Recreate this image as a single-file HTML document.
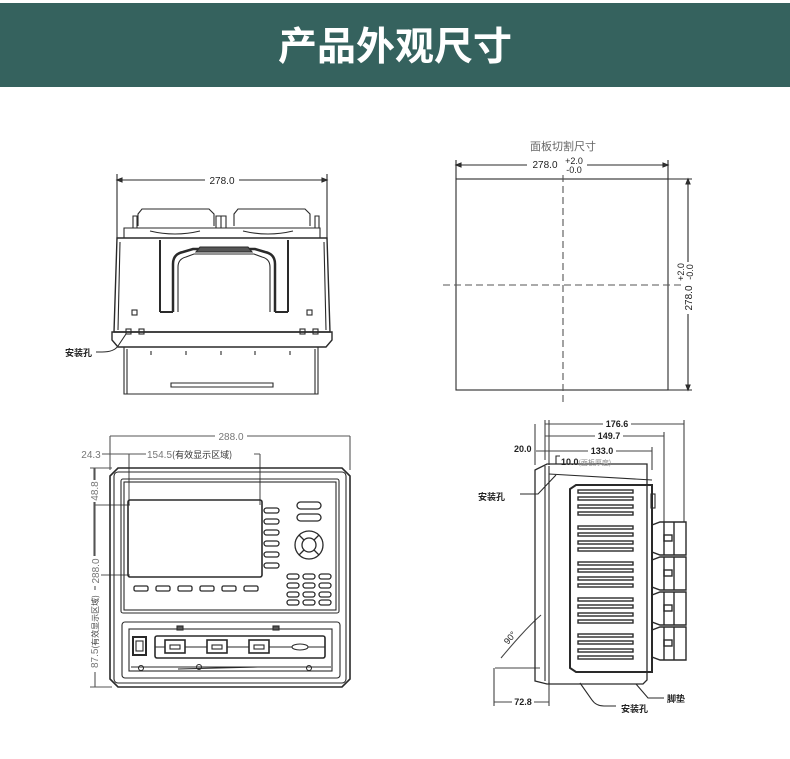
<!DOCTYPE html>
<html><head><meta charset="utf-8"><style>
html,body{margin:0;padding:0;background:#fff;}
svg{display:block}
text{font-family:"Liberation Sans","Noto Sans CJK SC",sans-serif;}
</style></head><body>
<svg width="790" height="759" viewBox="0 0 790 759" xmlns="http://www.w3.org/2000/svg">
<rect x="0" y="0" width="790" height="759" fill="#fff"/>
<rect x="0" y="3" width="790" height="84" fill="#35625e"/>
<text x="395" y="60" text-anchor="middle" font-size="39" font-weight="bold" fill="#fff" font-family="'Noto Sans CJK SC',sans-serif">产品外观尺寸</text>

<g fill="none" stroke="#2a2a2a" stroke-width="1.1">
<!-- ===== Top view ===== -->
<line x1="117" y1="180" x2="327" y2="180"/>
<line x1="117" y1="174" x2="117" y2="240"/><line x1="327" y1="174" x2="327" y2="240"/>
<path d="M117 180 l5 -2 v4z M327 180 l-5 -2 v4z" fill="#333"/>
<path d="M133 228 v-12 h4 v12 M216 228 v-12 h5 v12 M221 228 v-12 h5 v12 M315 228 v-12 h4 v12"/>
<path d="M138 226 v-12 l4 -5 h67 l5 5 v12"/>
<path d="M234 226 v-12 l4 -5 h67 l5 5 v12"/>
<path d="M124 238 v-10 h196 v10"/>
<path d="M150 231 q25 6 50 0 M243 231 q25 6 50 0"/>
<path d="M117 238 h210 l3 94 h-216 z" stroke-width="1.4"/>
<path d="M120 242 l-2 88 M324 242 l2 88"/>
<path d="M112 332 h220 v8 l-6 7 h-208 l-6 -7 z" stroke-width="1.4"/>
<path d="M124 347 v47 h194 v-47"/>
<path d="M127 394 v-45 M315 394 v-45"/>
<path d="M151 351 v4 M186 351 v4 M221 351 v4 M255 351 v4 M290 351 v4"/>
<path d="M171 383 h102 v4 h-102z"/>
<path d="M160 312 v-72 M288 312 v-72 M160 312 h13 M275 312 h13" stroke-width="2"/>
<path d="M173 312 v-48 q0 -10 10 -12 l10 -3 h62 l10 3 q10 2 10 12 v48" stroke-width="2.5"/>
<path d="M178 312 v-45 q0 -8 8 -10 l8 -3 h60 l8 3 q8 2 8 10 v45"/>
<path d="M196 252 l4 -5 h48 l4 5 z" fill="#555"/>
<rect x="132" y="310" width="5" height="5"/><rect x="307" y="310" width="5" height="5"/>
<rect x="126" y="329" width="5" height="5"/><rect x="139" y="329" width="5" height="5"/>
<rect x="300" y="329" width="5" height="5"/><rect x="313" y="329" width="5" height="5"/>
<path d="M126 334 l-8 12 q-4 6 -16 6 h-6"/>

<!-- ===== Cutout ===== -->
<rect x="456" y="179" width="212" height="211"/>
<line x1="456" y1="165" x2="668" y2="165"/>
<line x1="456" y1="160" x2="456" y2="179"/><line x1="668" y1="160" x2="668" y2="179"/>
<path d="M456 165 l5 -2 v4z M668 165 l-5 -2 v4z" fill="#333"/>
<line x1="688" y1="179" x2="688" y2="390"/>
<line x1="668" y1="179" x2="692" y2="179"/><line x1="668" y1="390" x2="692" y2="390"/>
<path d="M688 179 l-2 5 h4z M688 390 l-2 -5 h4z" fill="#333"/>
<line x1="563" y1="175" x2="563" y2="404" stroke-dasharray="7 4" stroke="#555"/>
<line x1="443" y1="285" x2="682" y2="285" stroke-dasharray="7 4" stroke="#555"/>

<!-- ===== Front view ===== -->
<g stroke="#555">
<line x1="110" y1="436" x2="350" y2="436"/>
<line x1="110" y1="436" x2="110" y2="470"/><line x1="350" y1="436" x2="350" y2="470"/>
<line x1="80" y1="454" x2="260" y2="454"/>
<line x1="129" y1="454" x2="129" y2="505"/><line x1="260" y1="454" x2="260" y2="505"/>
<line x1="95" y1="468" x2="95" y2="687"/>
<line x1="90" y1="468" x2="112" y2="468"/><line x1="90" y1="687" x2="112" y2="687"/>
<line x1="94" y1="505" x2="130" y2="505"/><line x1="94" y1="575" x2="130" y2="575"/>
<line x1="94" y1="468" x2="94" y2="575"/>
</g>
<path d="M118 468 h224 l8 8 v203 l-8 8 h-224 l-8 -8 v-203 z" stroke-width="1.6"/>
<rect x="114" y="472" width="232" height="211" rx="4"/>
<rect x="121" y="479" width="218" height="134" rx="2"/>
<rect x="124" y="482" width="212" height="128"/>
<rect x="128" y="500" width="134" height="77" rx="2" stroke-width="1.6"/>
<g stroke-width="1.3">
<rect x="264" y="508" width="15" height="5" rx="2.5"/><rect x="264" y="519" width="15" height="5" rx="2.5"/>
<rect x="264" y="530" width="15" height="5" rx="2.5"/><rect x="264" y="541" width="15" height="5" rx="2.5"/>
<rect x="264" y="552" width="15" height="5" rx="2.5"/><rect x="264" y="563" width="15" height="5" rx="2.5"/>
<rect x="297" y="502" width="24" height="7" rx="3.5"/><rect x="297" y="514" width="24" height="7" rx="3.5"/>
<circle cx="309" cy="545" r="14"/><circle cx="309" cy="545" r="7"/>
<path d="M299 535 l5 5 M319 535 l-5 5 M299 555 l5 -5 M319 555 l-5 -5"/>
<rect x="287" y="574" width="12" height="5" rx="2.5"/><rect x="303" y="574" width="12" height="5" rx="2.5"/><rect x="319" y="574" width="12" height="5" rx="2.5"/>
<rect x="287" y="583" width="12" height="5" rx="2.5"/><rect x="303" y="583" width="12" height="5" rx="2.5"/><rect x="319" y="583" width="12" height="5" rx="2.5"/>
<rect x="287" y="592" width="12" height="5" rx="2.5"/><rect x="303" y="592" width="12" height="5" rx="2.5"/><rect x="319" y="592" width="12" height="5" rx="2.5"/>
<rect x="287" y="600" width="12" height="5" rx="2.5"/><rect x="303" y="600" width="12" height="5" rx="2.5"/><rect x="319" y="600" width="12" height="5" rx="2.5"/>
<rect x="134" y="586" width="14" height="5" rx="1.5"/><rect x="156" y="586" width="14" height="5" rx="1.5"/>
<rect x="178" y="586" width="14" height="5" rx="1.5"/><rect x="200" y="586" width="14" height="5" rx="1.5"/>
<rect x="222" y="586" width="14" height="5" rx="1.5"/><rect x="244" y="586" width="14" height="5" rx="1.5"/>
</g>
<rect x="122" y="622" width="218" height="56" rx="3"/>
<rect x="129" y="629" width="203" height="42"/>
<rect x="177" y="626" width="6" height="4" fill="#555"/><rect x="273" y="626" width="6" height="4" fill="#555"/>
<rect x="133" y="637" width="13" height="18" stroke-width="2"/><rect x="136" y="641" width="7" height="10"/>
<rect x="155" y="636" width="170" height="22" rx="2" stroke-width="1.6"/>
<line x1="155" y1="647" x2="325" y2="647"/>
<rect x="165" y="640" width="20" height="13" fill="#fff" stroke-width="1.6"/><rect x="170" y="645" width="10" height="4"/>
<rect x="207" y="640" width="20" height="13" fill="#fff" stroke-width="1.6"/><rect x="212" y="645" width="10" height="4"/>
<rect x="249" y="640" width="20" height="13" fill="#fff" stroke-width="1.6"/><rect x="254" y="645" width="10" height="4"/>
<ellipse cx="300" cy="647" rx="8" ry="3" fill="#fff"/>
<path d="M131 667 h200 M178 669 l80 -2"/>
<circle cx="141" cy="668" r="2.5"/><circle cx="199" cy="667" r="2.5"/><circle cx="309" cy="668" r="2.5"/>

<!-- ===== Side view ===== -->
<g stroke="#444">
<line x1="545" y1="424" x2="684" y2="424"/>
<line x1="545" y1="436" x2="664" y2="436"/>
<line x1="536" y1="451" x2="652" y2="451"/>
<line x1="535" y1="424" x2="535" y2="465"/><line x1="549" y1="420" x2="549" y2="465"/>
<line x1="545" y1="420" x2="545" y2="460"/>
<line x1="684" y1="420" x2="684" y2="522"/><line x1="664" y1="432" x2="664" y2="522"/>
<line x1="652" y1="447" x2="652" y2="470"/>
<line x1="494" y1="668" x2="494" y2="706"/><line x1="549" y1="682" x2="549" y2="706"/>
<line x1="494" y1="702" x2="549" y2="702"/>
<path d="M495 668 h45"/>
<path d="M501 658 q25 -30 40 -43"/>
</g>
<path d="M535 470 l12 -6 h100 v216 l-4 4 h-96 l-12 -3 z" stroke-width="1.3"/>
<line x1="545" y1="466" x2="545" y2="681"/><line x1="549" y1="466" x2="549" y2="684"/>
<path d="M549 474 l103 6"/>
<path d="M576 485 h76 v187 h-76 l-6 -4 v-179 z" stroke-width="2"/>
<g stroke-width="1.4">
<rect x="578" y="490" width="55" height="3"/><rect x="578" y="497" width="55" height="3"/><rect x="578" y="505" width="55" height="3"/><rect x="578" y="512" width="55" height="3"/>
<rect x="578" y="526" width="55" height="3"/><rect x="578" y="533" width="55" height="3"/><rect x="578" y="541" width="55" height="3"/><rect x="578" y="548" width="55" height="3"/>
<rect x="578" y="562" width="55" height="3"/><rect x="578" y="569" width="55" height="3"/><rect x="578" y="577" width="55" height="3"/><rect x="578" y="584" width="55" height="3"/>
<rect x="578" y="598" width="55" height="3"/><rect x="578" y="605" width="55" height="3"/><rect x="578" y="613" width="55" height="3"/><rect x="578" y="620" width="55" height="3"/>
<rect x="578" y="634" width="55" height="3"/><rect x="578" y="641" width="55" height="3"/><rect x="578" y="649" width="55" height="3"/><rect x="578" y="656" width="55" height="3"/>
</g>
<rect x="651" y="494" width="4" height="14"/>
<g stroke-width="1.4">
<path d="M652 525 l8 -3 h26 v33 h-26 l-8 -3z M664 522 v33 M674 522 v33"/>
<path d="M652 560 l8 -3 h26 v33 h-26 l-8 -3z M664 557 v33 M674 557 v33"/>
<path d="M652 595 l8 -3 h26 v33 h-26 l-8 -3z M664 592 v33 M674 592 v33"/>
<path d="M652 630 l8 -3 h26 v33 h-26 l-8 -3z M664 627 v33 M674 627 v33"/>
<rect x="664" y="535" width="8" height="6"/><rect x="664" y="570" width="8" height="6"/><rect x="664" y="605" width="8" height="6"/><rect x="664" y="640" width="8" height="6"/>
</g>
<path d="M556 464 v-8 h4" /><path d="M556 475 l-18 19 h-18"/>
<path d="M580 683 l12 17 q4 6 12 6 h12"/><path d="M636 684 l12 14 h16"/>
</g>

<!-- text -->
<g fill="#222" font-size="10">
<rect x="205" y="174" width="34" height="12" fill="#fff"/>
<text x="222" y="184" text-anchor="middle">278.0</text>
<text x="65" y="356" font-size="9" font-weight="bold" font-family="'Noto Sans CJK SC',sans-serif">安装孔</text>

<text x="563" y="150" text-anchor="middle" font-size="11" fill="#666" font-family="'Noto Serif CJK SC',serif">面板切割尺寸</text>
<rect x="527" y="158" width="60" height="14" fill="#fff"/>
<text x="545" y="168" text-anchor="middle">278.0</text>
<text x="574" y="164" text-anchor="middle" font-size="9">+2.0</text>
<text x="574" y="173" text-anchor="middle" font-size="9">-0.0</text>
<rect x="681" y="262" width="14" height="52" fill="#fff"/>
<text transform="translate(692,298) rotate(-90)" text-anchor="middle">278.0</text>
<text transform="translate(684,272) rotate(-90)" text-anchor="middle" font-size="9">+2.0</text>
<text transform="translate(693,272) rotate(-90)" text-anchor="middle" font-size="9">-0.0</text>

<g fill="#777">
<rect x="215" y="430" width="32" height="12" fill="#fff"/>
<text x="231" y="440" text-anchor="middle">288.0</text>
<rect x="80" y="449" width="22" height="10" fill="#fff"/>
<text x="91" y="458" text-anchor="middle">24.3</text>
<rect x="146" y="449" width="108" height="10" fill="#fff"/>
<text x="147" y="458">154.5<tspan font-size="9" font-family="'Noto Sans CJK SC',sans-serif" fill="#333">(有效显示区域)</tspan></text>
<rect x="88" y="480" width="12" height="22" fill="#fff"/>
<text transform="translate(98,491) rotate(-90)" text-anchor="middle">48.8</text>
<rect x="88" y="556" width="13" height="30" fill="#fff"/>
<text transform="translate(99,571) rotate(-90)" text-anchor="middle">288.0</text>
<rect x="86" y="590" width="14" height="82" fill="#fff"/>
<text transform="translate(98,668) rotate(-90)">87.5<tspan font-size="8" font-family="'Noto Sans CJK SC',sans-serif" fill="#444">(有效显示区域)</tspan></text>
</g>

<g font-size="9" font-weight="bold">
<rect x="603" y="418" width="28" height="11" fill="#fff"/><text x="617" y="427" text-anchor="middle">176.6</text>
<rect x="595" y="430" width="28" height="11" fill="#fff"/><text x="609" y="439" text-anchor="middle">149.7</text>
<rect x="588" y="445" width="28" height="11" fill="#fff"/><text x="602" y="454" text-anchor="middle">133.0</text>
<text x="514" y="452">20.0</text>
<text x="561" y="465">10.0<tspan font-weight="normal" font-size="7" fill="#888" font-family="'Noto Sans CJK SC',sans-serif">(面板厚度)</tspan></text>
<text x="478" y="500" font-family="'Noto Sans CJK SC',sans-serif">安装孔</text>
<rect x="512" y="696" width="22" height="11" fill="#fff"/><text x="523" y="705" text-anchor="middle">72.8</text>
<text transform="translate(508,645) rotate(-50)" font-weight="normal">90°</text>
<text x="621" y="712" font-family="'Noto Sans CJK SC',sans-serif">安装孔</text>
<text x="667" y="702" font-family="'Noto Sans CJK SC',sans-serif">脚垫</text>
</g>
</g>
</svg>
</body></html>
